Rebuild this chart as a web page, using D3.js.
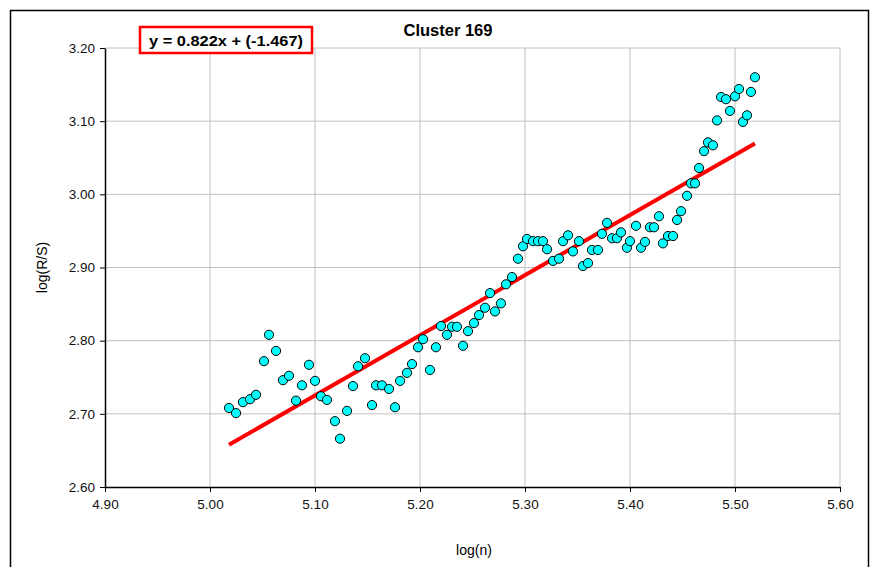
<!DOCTYPE html>
<html>
<head>
<meta charset="utf-8">
<script src="https://cdn.jsdelivr.net/npm/d3@7"></script>
<style>
  body { margin: 0; background: #fff; }
  text { font-family: "Liberation Sans", Arial, sans-serif; }
</style>
</head>
<body>
<div id="chart"></div>
<script>
let width = 875,
    height = 567,
    margin = ({ top: 48, right: 35, bottom: 80, left: 105 });

// log(n) values
const logN = [
  5.0181, 5.0248, 5.0314, 5.0381, 5.0438, 5.0514, 5.0562, 5.0629, 5.0695, 5.0752,
  5.0819, 5.0876, 5.0943, 5.1000, 5.1057, 5.1114, 5.1190, 5.1238, 5.1305, 5.1362,
  5.1410, 5.1476, 5.1543, 5.1581, 5.1638, 5.1705, 5.1762, 5.1810, 5.1876, 5.1924,
  5.1981, 5.2029, 5.2095, 5.2152, 5.2200, 5.2257, 5.2305, 5.2352, 5.2410, 5.2457,
  5.2514, 5.2562, 5.2619, 5.2667, 5.2714, 5.2771, 5.2819, 5.2876, 5.2933, 5.2981,
  5.3019, 5.3076, 5.3124, 5.3171, 5.3210, 5.3267, 5.3324, 5.3362, 5.3410, 5.3457,
  5.3514, 5.3552, 5.3600, 5.3638, 5.3695, 5.3733, 5.3781, 5.3829, 5.3876, 5.3914,
  5.3971, 5.4000, 5.4057, 5.4105, 5.4143, 5.4190, 5.4229, 5.4276, 5.4314, 5.4362,
  5.4410, 5.4448, 5.4486, 5.4543, 5.4581, 5.4619, 5.4657, 5.4705, 5.4743, 5.4790,
  5.4829, 5.4867, 5.4914, 5.4952, 5.5000, 5.5038, 5.5076, 5.5114, 5.5152, 5.5190
];

// log(R/S) values
const logRS = [
  2.708, 2.701, 2.716, 2.720, 2.726, 2.772, 2.808, 2.786, 2.746, 2.752,
  2.718, 2.739, 2.767, 2.745, 2.724, 2.719, 2.690, 2.666, 2.704, 2.738,
  2.765, 2.776, 2.712, 2.739, 2.739, 2.734, 2.709, 2.745, 2.756, 2.768,
  2.791, 2.802, 2.760, 2.791, 2.820, 2.808, 2.819, 2.819, 2.793, 2.813,
  2.824, 2.835, 2.845, 2.865, 2.840, 2.851, 2.877, 2.887, 2.912, 2.929,
  2.939, 2.936, 2.936, 2.936, 2.925, 2.909, 2.912, 2.936, 2.944, 2.922,
  2.936, 2.902, 2.906, 2.924, 2.924, 2.946, 2.961, 2.940, 2.940, 2.948,
  2.927, 2.936, 2.957, 2.927, 2.935, 2.955, 2.955, 2.970, 2.933, 2.943,
  2.943, 2.965, 2.977, 2.998, 3.015, 3.015, 3.036, 3.059, 3.071, 3.067,
  3.101, 3.133, 3.130, 3.114, 3.134, 3.144, 3.099, 3.108, 3.140, 3.160
];

const xTicks = [4.90, 5.00, 5.10, 5.20, 5.30, 5.40, 5.50, 5.60];
const yTicks = [2.60, 2.70, 2.80, 2.90, 3.00, 3.10, 3.20];

const slope = 0.822, intercept = -1.467;
const title = "Cluster 169";
const equation = "y = 0.822x + (-1.467)";

const data = logN.map((x, i) => ({ x: x, y: logRS[i] }));

const svg = d3.select("#chart")
  .append("svg")
  .attr("width", width)
  .attr("height", height);

// outer chart frame
svg.append("rect")
  .attr("x", 10.5)
  .attr("y", 10.5)
  .attr("width", 858)
  .attr("height", 600)
  .attr("fill", "none")
  .attr("stroke", "#000")
  .attr("stroke-width", 1.5);

let x = d3.scaleLinear()
  .domain([4.90, 5.60])
  .range([margin.left, width - margin.right]);

let y = d3.scaleLinear()
  .domain([2.60, 3.20])
  .range([height - margin.bottom, margin.top]);

// gridlines
svg.append("g")
  .selectAll("line")
  .data(xTicks.slice(1))
  .join("line")
  .attr("x1", d => x(d)).attr("x2", d => x(d))
  .attr("y1", y(2.60)).attr("y2", y(3.20))
  .attr("stroke", "#c0c0c0");

svg.append("g")
  .selectAll("line")
  .data(yTicks.slice(1))
  .join("line")
  .attr("x1", x(4.90)).attr("x2", x(5.60))
  .attr("y1", d => y(d)).attr("y2", d => y(d))
  .attr("stroke", "#c0c0c0");

// axes
let xAxis = svg.append("g")
  .attr("transform", `translate(0,${y(2.60)})`)
  .call(d3.axisBottom(x).tickValues(xTicks).tickFormat(d3.format(".2f")).tickSize(5).tickSizeOuter(0));

let yAxis = svg.append("g")
  .attr("transform", `translate(${x(4.90)},0)`)
  .call(d3.axisLeft(y).tickValues(yTicks).tickFormat(d3.format(".2f")).tickSize(5).tickSizeOuter(0));

for (let a of [xAxis, yAxis]) {
  a.select(".domain").attr("stroke", "#000").attr("stroke-width", 1.5);
  a.selectAll(".tick line").attr("stroke", "#000");
  a.selectAll(".tick text")
    .attr("font-size", 13.5)
    .attr("font-family", "'Liberation Sans', Arial, sans-serif")
    .attr("fill", "#111");
}
xAxis.selectAll(".tick text").attr("dy", "1.0em");
yAxis.selectAll(".tick text").attr("dx", "-0.15em");

// regression line
let xMin = d3.min(logN), xMax = d3.max(logN);
svg.append("line")
  .attr("x1", x(xMin)).attr("y1", y(slope * xMin + intercept))
  .attr("x2", x(xMax)).attr("y2", y(slope * xMax + intercept))
  .attr("stroke", "#ff0000")
  .attr("stroke-width", 4);

// points
svg.append("g")
  .selectAll("circle")
  .data(data)
  .join("circle")
  .attr("cx", d => x(d.x))
  .attr("cy", d => y(d.y))
  .attr("r", 4.6)
  .attr("fill", "#00ffff")
  .attr("stroke", "#000")
  .attr("stroke-width", 1);

// title
svg.append("text")
  .text(title)
  .attr("x", 448)
  .attr("y", 36)
  .attr("text-anchor", "middle")
  .attr("font-size", 16.5)
  .attr("font-weight", "bold");

// equation box
svg.append("rect")
  .attr("x", 140)
  .attr("y", 27)
  .attr("width", 172)
  .attr("height", 26)
  .attr("fill", "#fff")
  .attr("stroke", "#ff0000")
  .attr("stroke-width", 2.5);

svg.append("text")
  .text(equation)
  .attr("x", 226)
  .attr("y", 46)
  .attr("text-anchor", "middle")
  .attr("font-size", 15.5)
  .attr("font-weight", "bold")
  .attr("textLength", 154)
  .attr("lengthAdjust", "spacingAndGlyphs");

// axis titles
svg.append("text")
  .text("log(n)")
  .attr("x", 474)
  .attr("y", 555)
  .attr("text-anchor", "middle")
  .attr("font-size", 14);

svg.append("text")
  .text("log(R/S)")
  .attr("transform", `translate(47,${y(2.90)}) rotate(-90)`)
  .attr("text-anchor", "middle")
  .attr("font-size", 14);
</script>
</body>
</html>
